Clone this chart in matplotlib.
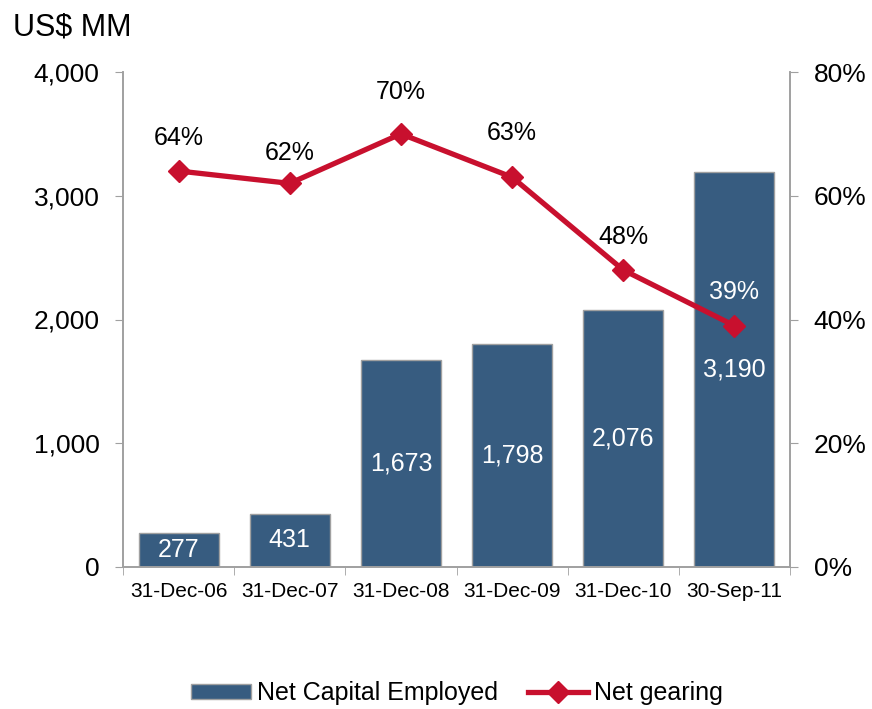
import numpy as np
import matplotlib.pyplot as plt
from matplotlib.lines import Line2D
from matplotlib.patches import Patch

plt.rcParams['font.family'] = ['Liberation Sans', 'DejaVu Sans']

# datos
fechas = ["31-Dec-06", "31-Dec-07", "31-Dec-08", "31-Dec-09", "31-Dec-10", "30-Sep-11"]
capital = [277, 431, 1673, 1798, 2076, 3190]
gearing = [64, 62, 70, 63, 48, 39]

# separacion de las etiquetas de % sobre cada punto (puntos tipograficos)
desfase = [24, 22, 30, 32, 24, 24]

azul = "#375C80"
rojo = "#C8102E"
gris = "#A0A0A0"

fig = plt.figure(figsize=(8.72, 7.09), dpi=100)
ax = fig.add_axes([123 / 872, 1 - 567 / 709, 667 / 872, 495 / 709])
ax2 = ax.twinx()

x = np.arange(len(fechas))
ax.bar(x, capital, width=0.72, color=azul, edgecolor=gris, linewidth=1, zorder=2)
for xi, v in zip(x, capital):
    ax.text(xi, v / 2, f"{v:,}", ha="center", va="center",
            color="white", fontsize=18, zorder=3)

ax.set_xlim(-0.5, len(fechas) - 0.5)
ax.set_ylim(0, 4000)
ax.set_yticks([0, 1000, 2000, 3000, 4000])
ax.set_yticklabels([f"{t:,}" for t in [0, 1000, 2000, 3000, 4000]], fontsize=19)
ax.set_xticks(x)
ax.set_xticklabels(fechas, fontsize=15)
ax.set_xticks(np.arange(-0.5, len(fechas)), minor=True)
ax.tick_params(axis="x", which="major", length=0, pad=11)
ax.tick_params(axis="x", which="minor", length=6, color=gris)
ax.tick_params(axis="y", length=6, color=gris, pad=11)

ax2.plot(x, gearing, color=rojo, lw=3.8, marker="D", markersize=11, zorder=4)
for xi, g, d in zip(x, gearing, desfase):
    col = "white" if g == gearing[-1] else "black"
    ax2.annotate(f"{g}%", (xi, g), xytext=(0, d), textcoords="offset points",
                 ha="center", va="center", fontsize=18, color=col)
ax2.set_ylim(0, 80)
ax2.set_yticks([0, 20, 40, 60, 80])
ax2.set_yticklabels([f"{t}%" for t in [0, 20, 40, 60, 80]], fontsize=19)
ax2.tick_params(axis="y", length=6, color=gris, pad=11)

for a in (ax, ax2):
    a.spines["top"].set_visible(False)
    for s in ("left", "right", "bottom"):
        a.spines[s].set_color(gris)
        a.spines[s].set_linewidth(1.2)

fig.text(13 / 872, 1 - 27 / 709, "US$ MM", fontsize=22, va="center", ha="left")

handles = [Patch(facecolor=azul, edgecolor=gris),
           Line2D([0], [0], color=rojo, lw=3.8, marker="D", markersize=11)]
fig.legend(handles, ["Net Capital Employed", "Net gearing"], loc="center",
           bbox_to_anchor=(457 / 872, 1 - 693 / 709), ncol=2, frameon=False,
           fontsize=18, handlelength=2.4, handleheight=0.55, handletextpad=0.25,
           columnspacing=1.2)

fig.savefig("out.png", dpi=100)
